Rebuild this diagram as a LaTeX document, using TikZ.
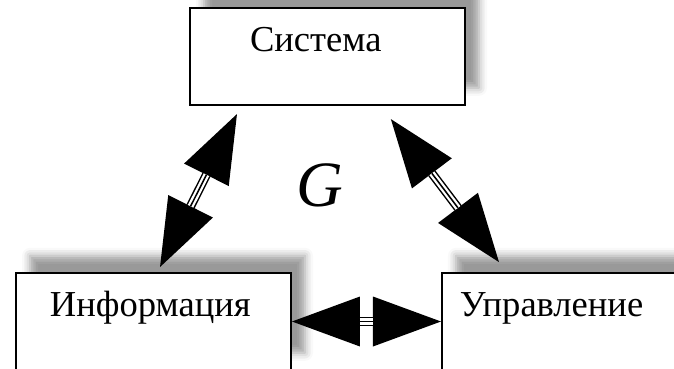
\documentclass[tikz,border=0pt]{standalone}
\usepackage{fontspec}
\setmainfont{Liberation Serif}
\usetikzlibrary{arrows.meta, positioning, shadows.blur}
\tikzstyle{box}=[rectangle, draw=black, line width=1.4pt, fill=white,
  minimum width=6.875cm, minimum height=2.425cm, align=left,
  text height=0.6cm, text depth=0.85cm,
  font=\fontsize{26}{30}\selectfont,
  blur shadow={shadow xshift=0.35cm, shadow yshift=0.43cm, shadow blur radius=0.2cm, shadow opacity=40}]
\tikzset{
  margin/.style={inner xsep=#1, text width=6.875cm-2*#1},
  link/.style 2 args={line width=6.4pt,
    {Triangle[length=1.7cm, width=1.25cm, line width=0pt]}-{Triangle[length=1.7cm, width=1.25cm, line width=0pt]},
    shorten <=#1, shorten >=#2,
    postaction={draw=white, line width=4.3pt, -, shorten <=#1+1.7cm, shorten >=#2+1.7cm},
    postaction={draw=black, line width=1.1pt, -, shorten <=#1+1.7cm, shorten >=#2+1.7cm}}
}
\begin{document}
\begin{tikzpicture}
  \useasboundingbox (0,0) rectangle (16.85,-9.2);
  \node[box, margin=0.85cm] (info) at (3.8375,-8.0375) {Информация};
  \node[box, margin=0.45cm] (ctrl) [right=3.725cm of info] {Управление};
  \node[box, margin=1.5cm] (sys) [above=4.15cm of info, xshift=4.35cm] {Система};
  \node[font=\fontsize{46}{46}\selectfont\itshape] (g) at (8.0,-4.625) {G};

  % connectors
  \draw[link={0.225cm}{0.14cm}] ([xshift=1.3cm]sys.south west) -- ([xshift=3.5625cm]info.north west);
  \draw[link={0.41cm}{0.31cm}] ([xshift=-2.125cm]sys.south east) -- ([xshift=1.6375cm]ctrl.north west);
  \draw[link={0pt}{0pt}] (info.east) -- (ctrl.west);
\end{tikzpicture}
\end{document}
